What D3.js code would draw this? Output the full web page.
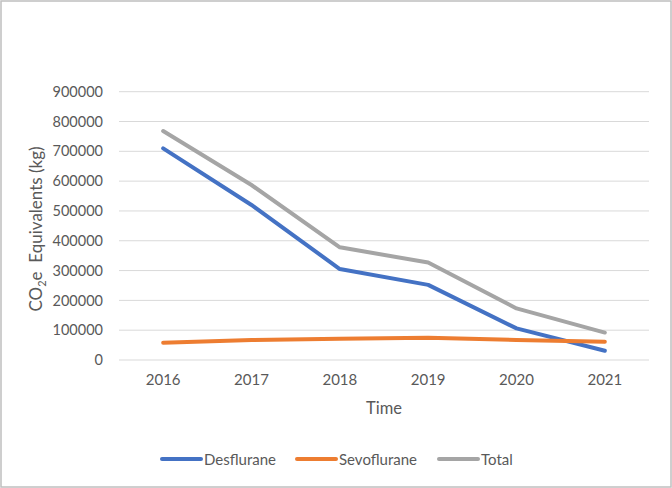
<!DOCTYPE html>
<html><head><meta charset="utf-8">
<script src="https://cdn.jsdelivr.net/npm/d3@7"></script>
<style>body{margin:0;background:#fff}svg{display:block}text{font-family:Lato,"Open Sans",sans-serif;fill:#595959}</style>
</head><body><svg id="c" width="672" height="488"></svg>
<script>
const years = ["2016","2017","2018","2019","2020","2021"];
const desflurane = [710000, 520000, 305000, 252000, 106000, 31000];
const sevoflurane = [58000, 67000, 71000, 75000, 67000, 61000];
const total = [768000, 587000, 378000, 327000, 173000, 92000];
const yTicks = [0,100000,200000,300000,400000,500000,600000,700000,800000,900000];
const seriesNames = ["Desflurane","Sevoflurane","Total"];
const colors = ["#4472C4","#ED7D31","#A5A5A5"];

const svg = d3.select("#c");
svg.append("rect").attr("x",1).attr("y",1).attr("width",670).attr("height",486)
  .attr("fill","#fff").attr("stroke","#bfbfbf").attr("stroke-width",1.5);

const L=119, R=649, T=91.7, B=360;
const x = d3.scaleBand().domain(years).range([L,R]);
const y = d3.scaleLinear().domain([0,900000]).range([B,T]);

svg.append("g").selectAll("line").data(yTicks).join("line")
  .attr("x1",L).attr("x2",R).attr("y1",d=>y(d)).attr("y2",d=>y(d))
  .attr("stroke","#d9d9d9").attr("stroke-width",1);

const yAxis = d3.axisLeft(y).tickValues(yTicks).tickSize(0).tickPadding(16).tickFormat(d3.format("d"));
const ya = svg.append("g").attr("transform",`translate(${L},0)`).call(yAxis);
ya.select(".domain").remove();
ya.selectAll("text").style("font-size","14.5px").style("font-family","Lato").attr("fill","#595959");

const xAxis = d3.axisBottom(x).tickSize(0).tickPadding(14);
const xa = svg.append("g").attr("transform",`translate(0,${B})`).call(xAxis);
xa.select(".domain").remove();
xa.selectAll("text").style("font-size","15px").style("font-family","Lato").attr("fill","#595959");

const data = [desflurane, sevoflurane, total];
const line = d3.line().x((d,i)=>x(years[i])+x.bandwidth()/2).y(d=>y(d));
data.forEach((s,k)=>{
  svg.append("path").datum(s).attr("d",line).attr("fill","none")
    .attr("stroke",colors[k]).attr("stroke-width",4).attr("stroke-linejoin","round").attr("stroke-linecap","round");
});

svg.append("text").attr("x",(L+R)/2).attr("y",414).attr("text-anchor","middle")
  .style("font-size","16.5px").text("Time");

const yl = svg.append("text").attr("transform","translate(42,229) rotate(-90)").attr("text-anchor","middle")
  .style("font-size","17px");
yl.append("tspan").text("CO");
yl.append("tspan").attr("dy",4).style("font-size","11px").text("2");
yl.append("tspan").attr("dy",-4).text("e\u00a0 Equivalents (kg)");

const legX = [162, 297, 439];
seriesNames.forEach((n,k)=>{
  svg.append("line").attr("x1",legX[k]).attr("x2",legX[k]+39).attr("y1",459).attr("y2",459)
    .attr("stroke",colors[k]).attr("stroke-width",4).attr("stroke-linecap","round");
  svg.append("text").attr("x",legX[k]+42).attr("y",464.5).style("font-size","15px").text(n);
});
</script></body></html>
